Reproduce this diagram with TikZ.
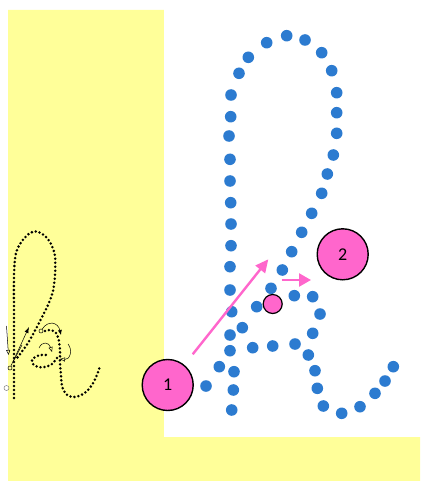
\documentclass[tikz,border=0pt]{standalone}
\usepackage{fontspec}
\setmainfont{Carlito}
\usepackage{xcolor}
\usepackage{tikz}
\usetikzlibrary{arrows.meta, positioning}
\definecolor{kyellow}{HTML}{FFFF99}
\definecolor{kblue}{HTML}{2C7BD0}
\definecolor{kpink}{HTML}{FF66CC}

\begin{document}
\begin{tikzpicture}[x=1pt, y=-1pt]
\useasboundingbox (0,0) rectangle (420,481);
\fill[kyellow] (8,10) -- (164,10) -- (164,437) -- (420,437) -- (420,481) -- (8,481) -- cycle;
\fill[white] (164,0) rectangle (420,437);
\foreach \x/\y in {286.7/35.7, 305/40, 266.7/42.7, 321.7/52.7, 248.3/57.3, 331.7/70.7, 239/73.3,
  336.7/92.7, 231/95, 336.7/112.7, 230.7/116.7, 336.7/133.3, 229/136, 333.3/155, 230/159.3,
  327.3/174, 230/181, 321.7/193.3, 230.7/202.7, 311.7/213.3, 231/224, 301.7/232.3, 231/245.7,
  291.7/251.7, 230/266.7, 282.3/270, 230/290, 271/288.3, 294.3/295.7, 312.7/296.7, 256.7/306.7,
  320/314, 231.7/311.7, 242.3/327.7, 230/335, 312.7/333.3, 230/350.7, 252.7/347.7, 272.7/346,
  295/344, 308.3/355, 219.3/366.7, 234/371.7, 315/370.7, 393.3/366.7, 385/381, 206/386,
  233.3/390, 317.3/388.3, 375/393.3, 323.3/406, 360/406.7, 341.7/413.3, 231.7/410}
  \fill[kblue] (\x,\y) circle (5.8pt);
\tikzset{
  sketchdots/.style={line width=2.8pt, dash pattern=on 0pt off 4pt, line cap=round},
  numdot/.style={circle, draw=black, line width=1.4pt, fill=kpink, minimum size=51pt, inner sep=0pt,
    font=\fontsize{18}{20}\selectfont},
  pinkarrow/.style={draw=kpink, line width=2.4pt},
  thinarrow/.style={line width=0.5pt}
}
\draw[sketchdots] plot[smooth] coordinates {(14,398) (14,330) (14,275) (16,253) (22,241) (30,233)
  (37,231.5) (45,236) (51,244) (55,256) (55,275) (53,291) (48,305) (39,323) (28,343) (17,358)};
\draw[sketchdots] plot[smooth] coordinates {(45,331) (51,330) (56,333) (59,341) (60,352) (60,363)
  (61,375) (62,386) (66,394) (72,397) (79,396) (86,392) (92,385) (97,375) (100,366)};
\draw[sketchdots] plot[smooth] coordinates {(57,358) (52,364) (45,367) (38,367) (33,364) (32,360)
  (36,356.5) (41,355) (47,355)};
\node[circle, draw, thinarrow, minimum size=4pt, inner sep=0pt] (s1) at (10,368) {};
\node[circle, draw, thinarrow, minimum size=4pt, inner sep=0pt] (s2) at (41,331) {};
\node[circle, draw=gray, thinarrow, minimum size=5pt, inner sep=0pt] (s3) at (6.5,388) {};
\coordinate (t1) at (6.5,326);
\coordinate (t2) at (8.5,355);
\coordinate (t3) at (29,327);
\coordinate (t4) at (61,335);
\coordinate (t5) at (39,348);
\coordinate (t6) at (52,352);
\coordinate (t7) at (68,344);
\coordinate (t8) at (60,359);
\draw[thinarrow, -{Triangle[open, length=5pt, width=4pt]}] (t1) -- (t2);
\draw[thinarrow, -{Latex[length=6pt, width=4pt]}] (s1) -- (t3);
\draw[thinarrow] (13,362) -- (22,345);
\draw[thinarrow, -{Latex[length=5pt, width=4pt]}] (s2) .. controls (48,320) and (58,322) .. (t4);
\draw[thinarrow, -{Triangle[open, length=5pt, width=4pt]}] (t5) .. controls (42,341) and (49,342) .. (t6);
\draw[thinarrow, -{Triangle[open, length=5pt, width=4pt]}] (t7) .. controls (73,350) and (70,360) .. (t8);
\node[numdot] (one) at (167.7,385) {1};
\node[numdot] (two) at (342.7,254.3) {2};
\node[circle, draw=black, line width=1.2pt, fill=kpink, minimum size=19pt, inner sep=0pt] (start) at (272.7,304) {};
\coordinate (up1) at (192.7,354.3);
\coordinate (up2) at (268.3,259.3);
\coordinate (right1) at (281.7,280);
\coordinate (right2) at (311,280);
\draw[pinkarrow, -{Triangle[length=13pt, width=12pt]}] (up1) -- (up2);
\draw[pinkarrow, -{Triangle[length=12pt, width=13pt]}] (right1) -- (right2);
\end{tikzpicture}
\end{document}
